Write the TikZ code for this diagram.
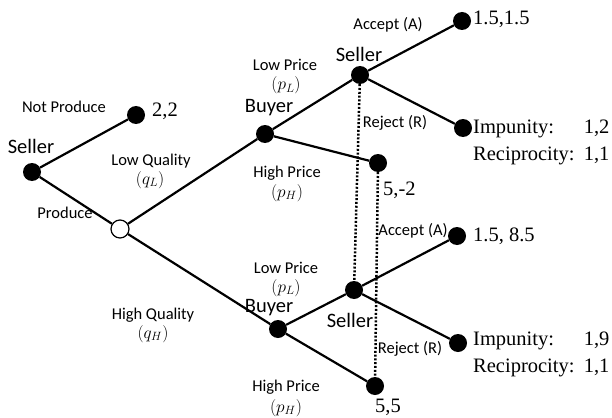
\documentclass[tikz,border=0pt]{standalone}
\usepackage{fontspec}
\setmainfont{Liberation Serif}
\newfontfamily\lblfont{Carlito}
\begin{document}
\begin{tikzpicture}[x=1pt,y=-1pt,
  dot/.style={circle, fill=black, minimum size=18pt, inner sep=0pt},
  chance/.style={circle, draw=black, fill=white, line width=1.2pt, minimum size=18pt, inner sep=0pt},
  edge/.style={line width=2.2pt},
  info/.style={line width=2.5pt, dash pattern=on 2pt off 1.8pt},
  lbl/.style={font=\fontsize{16.5}{19}\lblfont, anchor=base, inner sep=0pt},
  player/.style={font=\fontsize{20.5}{24}\lblfont, anchor=base, inner sep=0pt},
  pay/.style={font=\fontsize{20.5}{24}\selectfont, anchor=base west, inner sep=0pt},
  mth/.style={font=\fontsize{17.28}{20}\selectfont, anchor=base, inner sep=0pt}]
\useasboundingbox (0,0) rectangle (612,417);

% decision nodes
\node[dot] (root) at (32,172) {};
\node[dot] (np) at (136,115) {};
\node[chance] (ch) at (120,229) {};
\node[dot] (b1) at (265,134) {};
\node[dot] (s1) at (360,75) {};
\node[dot] (t1a) at (462,21) {};
\node[dot] (t1r) at (463,128) {};
\node[dot] (t1h) at (378,163) {};
\node[dot] (b2) at (278,329) {};
\node[dot] (s2) at (354,290) {};
\node[dot] (t2a) at (457,236) {};
\node[dot] (t2r) at (458,343) {};
\node[dot] (t2h) at (375,386) {};

% edges
\draw[edge] (root) -- (np);
\draw[edge] (root) -- (ch);
\draw[edge] (ch) -- (b1);
\draw[edge] (ch) -- (b2);
\draw[edge] (b1) -- (s1);
\draw[edge] (b1) -- (t1h);
\draw[edge] (s1) -- (t1a);
\draw[edge] (s1) -- (t1r);
\draw[edge] (b2) -- (s2);
\draw[edge] (b2) -- (t2h);
\draw[edge] (s2) -- (t2a);
\draw[edge] (s2) -- (t2r);

% information sets
\draw[info] (s1) -- (s2);
\draw[info] (t1h) -- (t2h);

% labels
\node[player] (lroot) at (31,153) {Seller};
\node[lbl] (lnp) at (64,113) {Not Produce};
\node[pay] (p22) at (152,117) {2,2};
\node[lbl] (llq) at (151,165) {Low Quality};
\node[mth] (lqL) at (150,184) {$(q_L)$};
\node[lbl] (lprod) at (65,218) {Produce};
\node[lbl] (lhq) at (153,319) {High Quality};
\node[mth] (lqH) at (153,338) {$(q_H)$};

\node[player] (lb1) at (269,113) {Buyer};
\node[lbl] (llp1) at (285,71) {Low Price};
\node[mth] (lpL1) at (286,90) {$(p_L)$};
\node[lbl] (lhp1) at (287,177) {High Price};
\node[mth] (lpH1) at (287,197) {$(p_H)$};
\node[player] (ls1) at (359,62) {Seller};
\node[lbl] (lacc1) at (388,30) {Accept (A)};
\node[pay] (p1a) at (473,25) {1.5,1.5};
\node[lbl] (lrej1) at (395,128) {Reject (R)};
\node[pay] (p1r) at (473,133) {\begin{tabular}[t]{@{}l@{\hspace{0.45em}}l@{}}Impunity: & 1,2\\[3pt] Reciprocity: & 1,1\end{tabular}};
\node[pay] (p1h) at (383,195) {5,-2};

\node[lbl] (llp2) at (286,273) {Low Price};
\node[mth] (lpL2) at (286,292) {$(p_L)$};
\node[player] (lb2) at (269,312) {Buyer};
\node[player] (ls2) at (350,327) {Seller};
\node[lbl] (lacc2) at (413,235) {Accept (A)};
\node[pay] (p2a) at (473,241) {1.5, 8.5};
\node[lbl] (lrej2) at (410,353) {Reject (R)};
\node[pay] (p2r) at (473,345) {\begin{tabular}[t]{@{}l@{\hspace{0.45em}}l@{}}Impunity: & 1,9\\[3pt] Reciprocity: & 1,1\end{tabular}};
\node[lbl] (lhp2) at (286,391) {High Price};
\node[mth] (lpH2) at (286,412) {$(p_H)$};
\node[pay] (p2h) at (375,412) {5,5};
\end{tikzpicture}
\end{document}
